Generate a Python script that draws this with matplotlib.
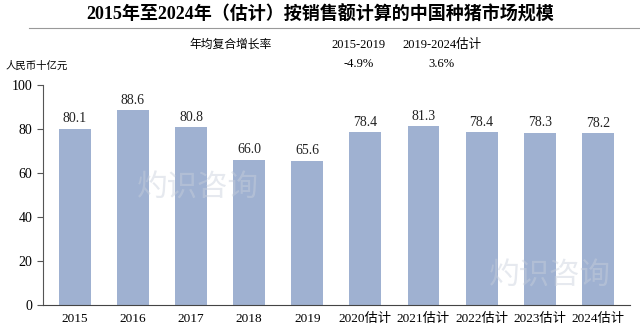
import matplotlib
matplotlib.use("Agg")
import matplotlib.pyplot as plt
from matplotlib.lines import Line2D

categories = ["2015", "2016", "2017", "2018", "2019", "2020估计", "2021估计", "2022估计", "2023估计", "2024估计"]
values = [80.1, 88.6, 80.8, 66.0, 65.6, 78.4, 81.3, 78.4, 78.3, 78.2]
yticks = [0, 20, 40, 60, 80, 100]
title = "2015年至2024年（估计）按销售额计算的中国种猪市场规模"
cagr_label = "年均复合增长率"
cagr_periods = ["2015-2019", "2019-2024估计"]
cagr_values = ["-4.9%", "3.6%"]
unit = "人民币十亿元"

plt.rcParams['font.family'] = ['Liberation Serif', 'Noto Sans CJK SC']

fig = plt.figure(figsize=(6.4, 3.29), dpi=100)
ax = fig.add_axes([0.067, 0.073, 0.917, 0.669])

x = list(range(len(categories)))
bars = ax.bar(x, values, width=0.55, color="#9fb1d1")
for xi, v in zip(x, values):
    ax.text(xi, v + 1.5, f"{v:.1f}", ha="center", va="bottom", fontsize=10, color="#222222")

ax.set_xlim(-0.55, len(categories) - 0.45)
ax.set_ylim(0, 100)
ax.set_yticks(yticks)
ax.set_xticks(x)
ax.set_xticklabels(categories, fontsize=9.5)
ax.tick_params(axis="x", length=0, pad=6)
ax.tick_params(axis="y", labelsize=10, length=4, direction="out", color="#555555")
for s in ["top", "right"]:
    ax.spines[s].set_visible(False)
ax.spines["left"].set_color("#555555")
ax.spines["bottom"].set_color("#444444")

# faint watermarks
ax.text(0.16, 0.53, "灼识咨询", transform=ax.transAxes, fontsize=22, color="#c8d0dc", alpha=0.45,
        ha="left", va="center", family=['Noto Sans CJK SC'], zorder=3)
ax.text(0.76, 0.13, "灼识咨询", transform=ax.transAxes, fontsize=22, color="#c8d0dc", alpha=0.45,
        ha="left", va="center", family=['Noto Sans CJK SC'], zorder=3)

fig.text(0.5, 0.957, title, ha="center", va="center", fontsize=13, fontweight="bold")
fig.add_artist(Line2D([0.045, 1.0], [0.915, 0.915], color="#999999", lw=0.8))
fig.text(0.36, 0.863, cagr_label, ha="center", va="center", fontsize=8.5)
fig.text(0.56, 0.863, cagr_periods[0], ha="center", va="center", fontsize=9)
fig.text(0.69, 0.863, cagr_periods[1], ha="center", va="center", fontsize=9)
fig.text(0.56, 0.805, cagr_values[0], ha="center", va="center", fontsize=9)
fig.text(0.69, 0.805, cagr_values[1], ha="center", va="center", fontsize=9)
fig.text(0.008, 0.800, unit, ha="left", va="center", fontsize=7.5)

fig.savefig("out.png", dpi=100)
